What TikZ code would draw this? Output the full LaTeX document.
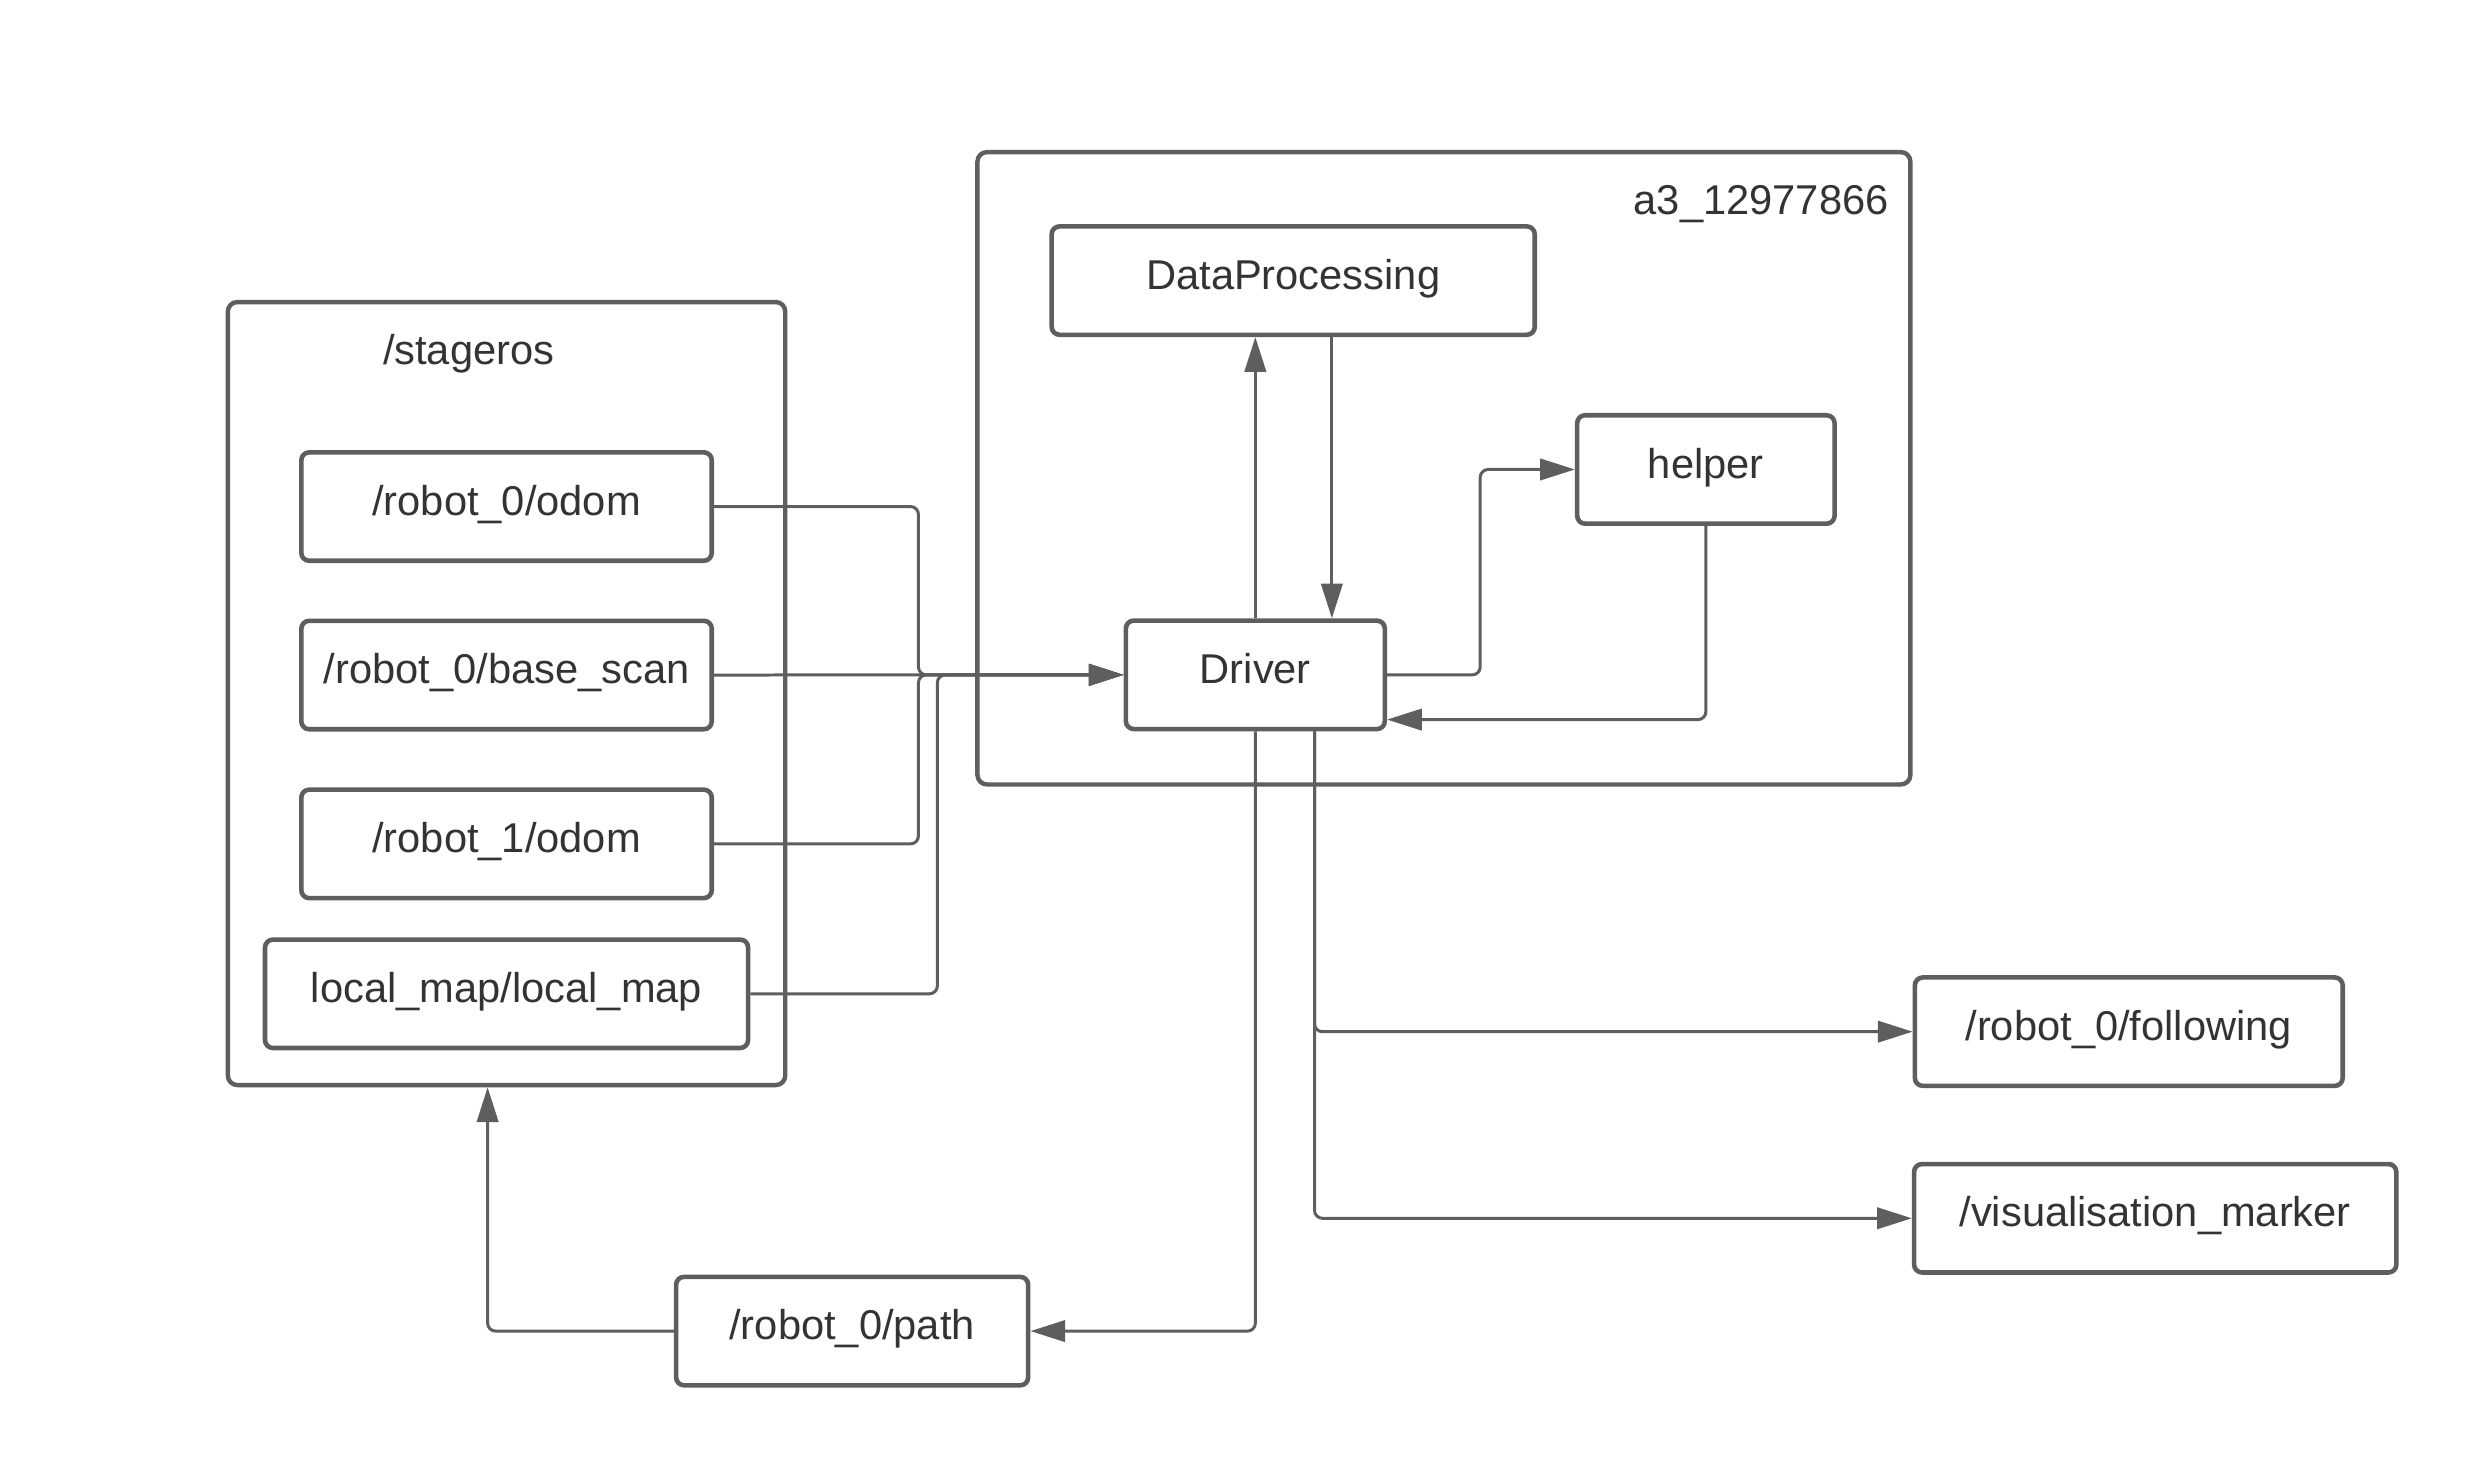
\documentclass[tikz,border=0pt]{standalone}
\usepackage{fontspec}
\setmainfont{Liberation Sans}
\usetikzlibrary{arrows.meta}
\definecolor{lc}{HTML}{5E5E5E}
\definecolor{tc}{HTML}{333333}
\tikzset{
  box/.style={draw=lc, line width=2.9pt, rounded corners=5pt, fill=white, text=tc,
    inner sep=0pt, text height=18pt, text depth=7pt, minimum height=68.7pt,
    font=\fontsize{26.4pt}{31pt}\selectfont},
  cont/.style={draw=lc, line width=2.8pt, rounded corners=6pt, inner sep=0pt},
  lbl/.style={text=tc, inner sep=0pt, font=\fontsize{26.4pt}{31pt}\selectfont},
  conn/.style={draw=lc, line width=1.9pt, rounded corners=5pt},
  arr/.style={conn, -{Triangle[length=22pt,width=13.5pt]}},
}
\begin{document}
\begin{tikzpicture}[x=1pt,y=-1pt]
\useasboundingbox (0,0) rectangle (1568.4,927.1);
% containers
\node[cont, minimum width=353.2pt, minimum height=496.2pt] (stg) at (321,439.5) {};
\node[cont, minimum width=591.2pt, minimum height=400.7pt] (a3) at (915,296.75) {};
\node[lbl, anchor=base] (stglbl) at (297,231) {/stageros};
\node[lbl, anchor=base east] (a3lbl) at (1197,136) {a3\_12977866};
% boxes
\node[box, minimum width=260.1pt] (o0) at (321,321) {/robot\_0/odom};
\node[box, minimum width=260.1pt] (bs) at (321,427.75) {/robot\_0/base\_scan};
\node[box, minimum width=260.1pt] (o1) at (321,534.75) {/robot\_1/odom};
\node[box, minimum width=306.1pt] (lm) at (321,629.75) {local\_map/local\_map};
\node[box, minimum width=306.1pt] (dp) at (819.5,177.8) {DataProcessing};
\node[box, minimum width=163.1pt] (hlp) at (1081,297.5) {helper};
\node[box, minimum width=164.1pt] (drv) at (795.5,427.65) {Driver};
\node[box, minimum width=271.1pt] (fol) at (1349,653.75) {/robot\_0/following};
\node[box, minimum width=305.6pt] (vis) at (1365.75,772) {/visualisation\_marker};
\node[box, minimum width=223.1pt] (pth) at (540,843.5) {/robot\_0/path};
% junction / bend coordinates
\coordinate (jA) at (582,427.65);
\coordinate (jB) at (594,427.65);
% connectors
\draw[arr] (o0.east) -| (jA) -- (drv.west);
\draw[arr] (bs.east) -- (drv.west);
\draw[arr] (o1.east) -| (jA) -- (drv.west);
\draw[arr] (lm.east) -| (jB) -- (drv.west);
\draw[arr] (drv.north) -- (drv.north |- dp.south);
\draw[arr] (dp.south -| 844,0) -- (drv.north -| 844,0);
\draw[arr] (drv.east) -- (drv.east -| 938,0) |- (hlp.west);
\draw[arr] (hlp.south) |- (drv.east |- 0,456);
\draw[arr] (drv.south) |- (pth.east);
\draw[arr] (drv.south -| 833,0) |- (fol.west);
\draw[arr] (drv.south -| 833,0) |- (vis.west);
\draw[arr] (pth.west) -| (stg.south -| 309,0);
\end{tikzpicture}
\end{document}
